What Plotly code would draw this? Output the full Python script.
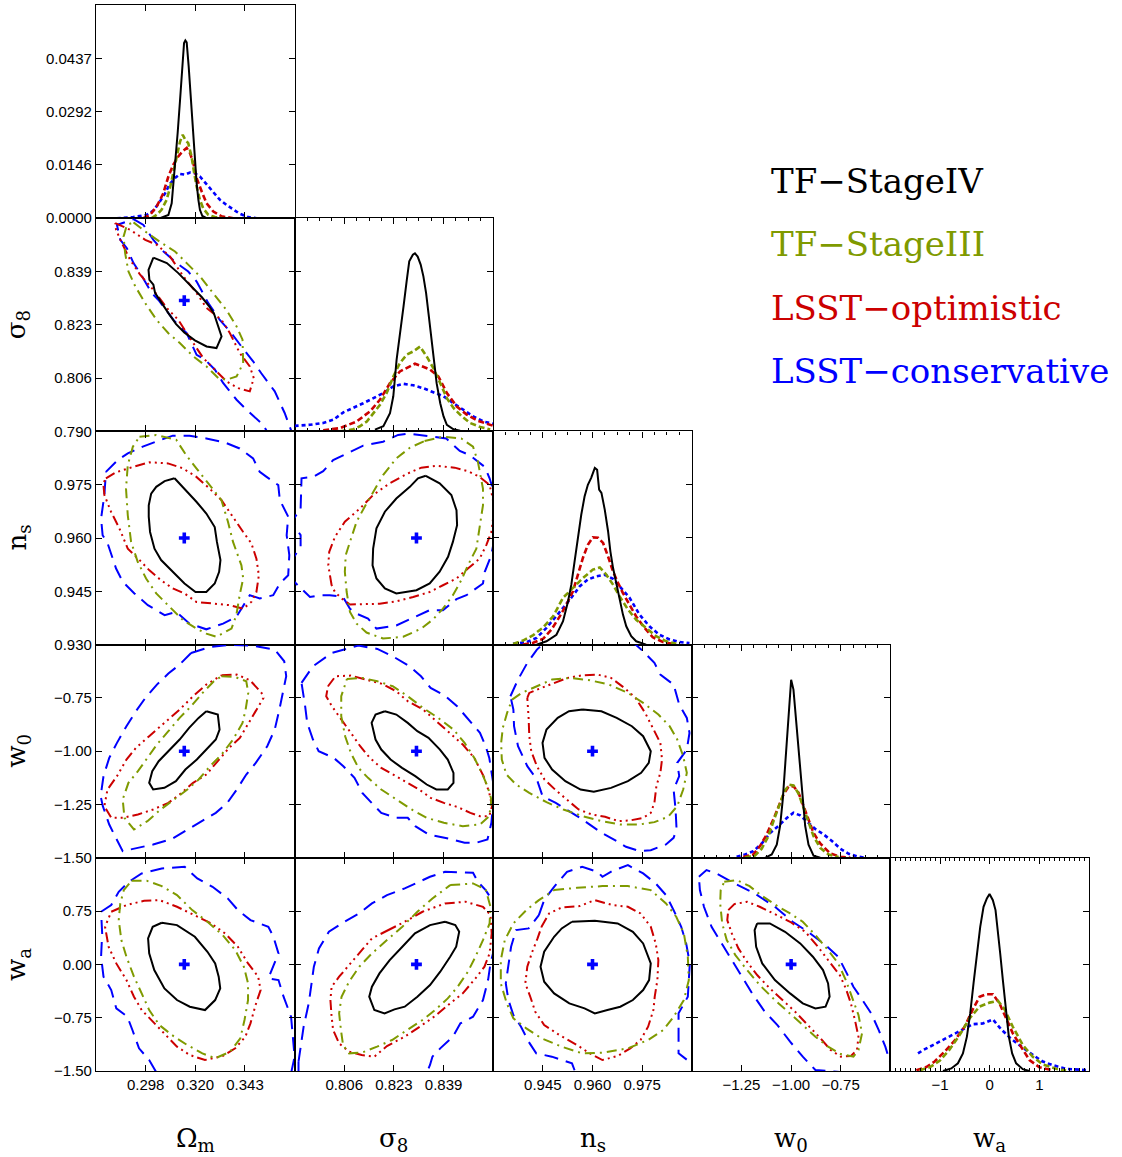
import plotly.graph_objects as go

# ---------------------------------------------------------------------------
# Parameters, fiducial cosmology and survey labels
# ---------------------------------------------------------------------------
params = ["om", "s8", "ns", "w0", "wa"]
fiducial = {"om": 0.315, "s8": 0.83, "ns": 0.96, "w0": -1.0, "wa": 0.0}
survey_names = {"iv": "TF−StageIV", "iii": "TF−StageIII",
                "opt": "LSST−optimistic", "con": "LSST−conservative"}

# Tick values / labels
om_ticks = [0.2975, 0.3200, 0.3425]
om_ticktext = ["0.298", "0.320", "0.343"]
s8_ticks = [0.7895, 0.8060, 0.8225, 0.8390]
s8_ticktext = ["0.790", "0.806", "0.823", "0.839"]
ns_ticks = [0.930, 0.945, 0.960, 0.975]
ns_ticktext = ["0.930", "0.945", "0.960", "0.975"]
w0_ticks = [-1.50, -1.25, -1.00, -0.75]
w0_ticktext = ["−1.50", "−1.25", "−1.00", "−0.75"]
wa_ticks = [-1.50, -0.75, 0.00, 0.75]
wa_ticktext = ["−1.50", "−0.75", "0.00", "0.75"]
wa_hist_ticks = [-1, 0, 1]
wa_hist_ticktext = ["−1", "0", "1"]
prob_ticks = [0.0, 0.0146, 0.0292, 0.0437]
prob_ticktext = ["0.0000", "0.0146", "0.0292", "0.0437"]

# ---------------------------------------------------------------------------
# 1-D marginal distributions (bin centre, probability per bin)
# ---------------------------------------------------------------------------
h_om_iv_x = [0.3040, 0.3078, 0.3093, 0.3100, 0.3108, 0.3120, 0.3131, 0.3141, 0.3149, 0.3155, 0.3161,
             0.3170, 0.3176, 0.3183, 0.3191, 0.3198, 0.3206, 0.3214, 0.3221, 0.3232, 0.3251, 0.3282]
h_om_iv_y = [0, 0.0009, 0.0041, 0.0087, 0.0151, 0.0233, 0.0324, 0.0415, 0.0479, 0.0486, 0.0481,
             0.0415, 0.0360, 0.0297, 0.0214, 0.0151, 0.0096, 0.0050, 0.0023, 0.0006, 0, 0]
h_om_iii_x = [0.3002, 0.3025, 0.3047, 0.3070, 0.3085, 0.3100, 0.3115, 0.3131, 0.3143, 0.3155, 0.3168,
              0.3183, 0.3195, 0.3206, 0.3221, 0.3236, 0.3259, 0.3289, 0.3327]
h_om_iii_y = [0, 0.0009, 0.0023, 0.0050, 0.0082, 0.0123, 0.0169, 0.0210, 0.0228, 0.0214, 0.0205,
              0.0169, 0.0123, 0.0087, 0.0050, 0.0027, 0.0009, 0.0003, 0]
h_om_opt_x = [0.2964, 0.2995, 0.3025, 0.3055, 0.3078, 0.3100, 0.3123, 0.3143, 0.3161, 0.3176, 0.3191,
              0.3206, 0.3229, 0.3251, 0.3282, 0.3319, 0.3372]
h_om_opt_y = [0, 0.0009, 0.0032, 0.0068, 0.0114, 0.0146, 0.0169, 0.0183, 0.0192, 0.0178, 0.0151,
              0.0110, 0.0073, 0.0041, 0.0018, 0.0005, 0]
h_om_con_x = [0.2844, 0.2919, 0.2980, 0.3010, 0.3040, 0.3063, 0.3085, 0.3108, 0.3131, 0.3153, 0.3176,
              0.3198, 0.3221, 0.3244, 0.3266, 0.3289, 0.3312, 0.3342, 0.3372, 0.3402, 0.3440, 0.3478]
h_om_con_y = [0, 0.0003, 0.0009, 0.0021, 0.0046, 0.0068, 0.0094, 0.0110, 0.0121, 0.0119, 0.0125,
              0.0123, 0.0114, 0.0098, 0.0082, 0.0064, 0.0050, 0.0036, 0.0025, 0.0012, 0.0003, 0]

h_s8_iv_x = [0.8162, 0.8190, 0.8212, 0.8223, 0.8234, 0.8243, 0.8257, 0.8268, 0.8276, 0.8288, 0.8295, 0.8304,
             0.8314, 0.8323, 0.8332, 0.8340, 0.8351, 0.8359, 0.8367, 0.8379, 0.8390, 0.8401, 0.8423, 0.8445]
h_s8_iv_y = [0.0005, 0.0014, 0.0050, 0.0096, 0.0196, 0.0260, 0.0342, 0.0415, 0.0465, 0.0483, 0.0487, 0.0478,
             0.0456, 0.0424, 0.0378, 0.0323, 0.0251, 0.0196, 0.0132, 0.0077, 0.0041, 0.0018, 0.0006, 0.0002]
h_s8_iii_x = [0.8046, 0.8090, 0.8112, 0.8135, 0.8157, 0.8179, 0.8201, 0.8223, 0.8245, 0.8268, 0.8290,
              0.8312, 0.8334, 0.8356, 0.8379, 0.8401, 0.8423, 0.8451, 0.8478, 0.8512, 0.8545]
h_s8_iii_y = [0, 0.0006, 0.0014, 0.0027, 0.0050, 0.0073, 0.0105, 0.0150, 0.0187, 0.0210, 0.0219,
              0.0232, 0.0205, 0.0173, 0.0132, 0.0091, 0.0064, 0.0041, 0.0023, 0.0012, 0.0005]
h_s8_opt_x = [0.7990, 0.8046, 0.8101, 0.8146, 0.8179, 0.8212, 0.8245, 0.8279, 0.8295, 0.8318, 0.8345,
              0.8373, 0.8401, 0.8434, 0.8467, 0.8501, 0.8534, 0.8556]
h_s8_opt_y = [0.0003, 0.0009, 0.0027, 0.0055, 0.0087, 0.0132, 0.0164, 0.0179, 0.0185, 0.0178, 0.0169,
              0.0150, 0.0105, 0.0068, 0.0046, 0.0030, 0.0021, 0.0015]
h_s8_con_x = [0.7895, 0.7946, 0.7990, 0.8024, 0.8057, 0.8090, 0.8123, 0.8157, 0.8190, 0.8223, 0.8257,
              0.8290, 0.8323, 0.8356, 0.8390, 0.8423, 0.8456, 0.8489, 0.8523, 0.8555]
h_s8_con_y = [0.0015, 0.0018, 0.0023, 0.0032, 0.0052, 0.0064, 0.0077, 0.0091, 0.0105, 0.0123, 0.0130,
              0.0126, 0.0118, 0.0107, 0.0096, 0.0077, 0.0059, 0.0041, 0.0027, 0.0021]

h_ns_iv_x = [0.9431, 0.9461, 0.9491, 0.9511, 0.9526, 0.9536, 0.9546, 0.9556, 0.9566, 0.9576, 0.9586, 0.9596,
             0.9607, 0.9614, 0.9620, 0.9627, 0.9637, 0.9647, 0.9654, 0.9662, 0.9672, 0.9682, 0.9692, 0.9702,
             0.9717, 0.9732, 0.9762]
h_ns_iv_y = [0, 0.0009, 0.0027, 0.0064, 0.0118, 0.0164, 0.0228, 0.0292, 0.0355, 0.0405, 0.0437, 0.0456,
             0.0483, 0.0478, 0.0424, 0.0415, 0.0369, 0.0310, 0.0255, 0.0210, 0.0164, 0.0118, 0.0082, 0.0050,
             0.0023, 0.0009, 0]
h_ns_iii_x = [0.9360, 0.9390, 0.9421, 0.9451, 0.9481, 0.9511, 0.9541, 0.9571, 0.9601, 0.9622, 0.9642,
              0.9662, 0.9682, 0.9707, 0.9732, 0.9762, 0.9792, 0.9823, 0.9853]
h_ns_iii_y = [0.0002, 0.0011, 0.0026, 0.0047, 0.0077, 0.0128, 0.0155, 0.0182, 0.0205, 0.0211, 0.0191,
              0.0164, 0.0132, 0.0096, 0.0068, 0.0046, 0.0023, 0.0009, 0.0002]
h_ns_opt_x = [0.9390, 0.9421, 0.9451, 0.9476, 0.9501, 0.9521, 0.9541, 0.9556, 0.9571, 0.9586, 0.9601, 0.9617,
              0.9632, 0.9647, 0.9662, 0.9677, 0.9692, 0.9712, 0.9732, 0.9757, 0.9782, 0.9813, 0.9843]
h_ns_opt_y = [0, 0.0005, 0.0016, 0.0041, 0.0077, 0.0109, 0.0146, 0.0191, 0.0237, 0.0273, 0.0293, 0.0292,
              0.0278, 0.0241, 0.0200, 0.0169, 0.0141, 0.0109, 0.0077, 0.0046, 0.0020, 0.0007, 0.0002]
h_ns_con_x = [0.9360, 0.9401, 0.9431, 0.9461, 0.9486, 0.9511, 0.9536, 0.9561, 0.9586, 0.9612, 0.9637,
              0.9662, 0.9687, 0.9712, 0.9742, 0.9772, 0.9802, 0.9833, 0.9863, 0.9893]
h_ns_con_y = [0.0002, 0.0007, 0.0018, 0.0046, 0.0073, 0.0100, 0.0128, 0.0159, 0.0178, 0.0187, 0.0191,
              0.0180, 0.0155, 0.0128, 0.0082, 0.0050, 0.0027, 0.0014, 0.0007, 0.0004]

h_w0_iv_x = [-1.1312, -1.0975, -1.0722, -1.0554, -1.0420, -1.0302, -1.0184, -1.0083, -0.9998, -0.9881,
             -0.9796, -0.9678, -0.9544, -0.9426, -0.9291, -0.9123, -0.8870, -0.8533]
h_w0_iv_y = [0, 0.0009, 0.0036, 0.0087, 0.0159, 0.0251, 0.0351, 0.0442, 0.0487, 0.0460,
             0.0405, 0.0323, 0.0232, 0.0159, 0.0087, 0.0036, 0.0006, 0]
h_w0_iii_x = [-1.2323, -1.1818, -1.1480, -1.1144, -1.0857, -1.0588, -1.0335, -1.0083, -0.9881, -0.9628,
              -0.9375, -0.9123, -0.8870, -0.8533, -0.8112, -0.7607]
h_w0_iii_y = [0.0001, 0.0006, 0.0025, 0.0059, 0.0105, 0.0146, 0.0182, 0.0200, 0.0198, 0.0176,
              0.0137, 0.0094, 0.0059, 0.0027, 0.0009, 0.0002]
h_w0_opt_x = [-1.2407, -1.1902, -1.1564, -1.1228, -1.0891, -1.0638, -1.0386, -1.0133, -0.9881, -0.9628,
              -0.9375, -0.9123, -0.8870, -0.8533, -0.8028, -0.7523, -0.7018]
h_w0_opt_y = [0.0002, 0.0009, 0.0032, 0.0064, 0.0105, 0.0141, 0.0173, 0.0194, 0.0196, 0.0178,
              0.0141, 0.0100, 0.0068, 0.0039, 0.0012, 0.0003, 0]
h_w0_con_x = [-1.2744, -1.2323, -1.1902, -1.1480, -1.1059, -1.0638, -1.0217, -0.9881, -0.9544, -0.9207,
              -0.8786, -0.8365, -0.7944, -0.7523, -0.7102, -0.6681, -0.6344]
h_w0_con_y = [0.0003, 0.0009, 0.0018, 0.0039, 0.0068, 0.0087, 0.0109, 0.0123, 0.0116, 0.0100,
              0.0079, 0.0064, 0.0046, 0.0025, 0.0011, 0.0004, 0.0001]

h_wa_iv_x = [-0.9414, -0.7739, -0.6399, -0.5394, -0.4590, -0.3920, -0.3250, -0.2580, -0.1910, -0.1240,
             -0.0570, -0.0034, 0.0636, 0.1172, 0.1641, 0.2110, 0.2646, 0.3182, 0.3852, 0.4522, 0.5326,
             0.6666, 0.8006]
h_wa_iv_y = [0, 0.0007, 0.0021, 0.0048, 0.0094, 0.0158, 0.0240, 0.0322, 0.0394, 0.0449,
             0.0472, 0.0484, 0.0467, 0.0440, 0.0385, 0.0322, 0.0249, 0.0176, 0.0094, 0.0048, 0.0021,
             0.0005, 0]
h_wa_iii_x = [-1.4104, -1.2094, -1.0084, -0.8074, -0.6064, -0.4054, -0.2044, -0.0034, 0.1641, 0.2981,
              0.4656, 0.6666, 0.8676, 1.0686, 1.3366, 1.5376]
h_wa_iii_y = [0.0002, 0.0010, 0.0028, 0.0059, 0.0098, 0.0144, 0.0176, 0.0187, 0.0192, 0.0169,
              0.0121, 0.0071, 0.0039, 0.0018, 0.0006, 0.0001]
h_wa_opt_x = [-1.4774, -1.2764, -1.1089, -0.9079, -0.7069, -0.5059, -0.3384, -0.2044, -0.0704, 0.0636,
              0.1976, 0.3316, 0.4656, 0.6331, 0.8006, 1.0016, 1.2696]
h_wa_opt_y = [0.0002, 0.0011, 0.0026, 0.0053, 0.0083, 0.0121, 0.0169, 0.0203, 0.0210, 0.0210,
              0.0185, 0.0144, 0.0103, 0.0066, 0.0030, 0.0010, 0.0002]
h_wa_con_x = [-1.4439, -1.3434, -1.1424, -0.9414, -0.7404, -0.5394, -0.3384, -0.1374, 0.0636, 0.2311,
              0.3986, 0.5661, 0.7336, 0.9011, 1.0686, 1.2696, 1.5376, 1.8056, 2.0066]
h_wa_con_y = [0.0048, 0.0057, 0.0071, 0.0085, 0.0098, 0.0112, 0.0128, 0.0130, 0.0141, 0.0114,
              0.0092, 0.0074, 0.0057, 0.0041, 0.0026, 0.0016, 0.0006, 0.0003, 0.0002]

# ---------------------------------------------------------------------------
# 2-D confidence contours (closed vertex loops), named <y>_<x>_<survey>
# ---------------------------------------------------------------------------
# sigma8 vs Omega_m
s8_om_iv_x = [0.3010, 0.3071, 0.3123, 0.3176, 0.3229, 0.3263, 0.3284, 0.3319, 0.3296, 0.3251, 0.3198,
              0.3150, 0.3113, 0.3078, 0.3048, 0.3018, 0.3010, 0.2992, 0.2988]
s8_om_iv_y = [0.8433, 0.8416, 0.8385, 0.8349, 0.8311, 0.8282, 0.8261, 0.8189, 0.8153, 0.8158, 0.8177,
              0.8201, 0.8227, 0.8261, 0.8290, 0.8323, 0.8349, 0.8364, 0.8395]
s8_om_iii_x = [0.2920, 0.2973, 0.3048, 0.3108, 0.3161, 0.3221, 0.3281, 0.3341, 0.3387, 0.3414, 0.3417,
               0.3387, 0.3341, 0.3304, 0.3251, 0.3191, 0.3131, 0.3078, 0.3025, 0.2973, 0.2928, 0.2897,
               0.2882, 0.2875, 0.2890]
s8_om_iii_y = [0.8542, 0.8514, 0.8478, 0.8452, 0.8416, 0.8375, 0.8323, 0.8271, 0.8220, 0.8179, 0.8106,
               0.8065, 0.8055, 0.8060, 0.8096, 0.8127, 0.8168, 0.8199, 0.8240, 0.8292, 0.8344, 0.8390,
               0.8447, 0.8498, 0.8534]
s8_om_opt_x = [0.2837, 0.2905, 0.2973, 0.3025, 0.3086, 0.3146, 0.3206, 0.3251, 0.3319, 0.3357, 0.3402,
               0.3447, 0.3465, 0.3447, 0.3394, 0.3341, 0.3289, 0.3236, 0.3176, 0.3123, 0.3071, 0.3010,
               0.2950, 0.2905, 0.2867, 0.2841]
s8_om_opt_y = [0.8540, 0.8519, 0.8488, 0.8473, 0.8436, 0.8375, 0.8323, 0.8277, 0.8240, 0.8199, 0.8137,
               0.8096, 0.8060, 0.8019, 0.8029, 0.8050, 0.8086, 0.8122, 0.8184, 0.8240, 0.8277, 0.8333,
               0.8380, 0.8426, 0.8478, 0.8519]
s8_om_con_x = [0.2920, 0.2965, 0.3010, 0.3056, 0.3116, 0.3168, 0.3206, 0.3259, 0.3311, 0.3364, 0.3409,
               0.3462, 0.3499, 0.3560, 0.3605, 0.3642, 0.3660, 0.3537, 0.3507, 0.3432, 0.3387, 0.3326,
               0.3289, 0.3244, 0.3206, 0.3161, 0.3101, 0.3033, 0.3003, 0.2950, 0.2920, 0.2890, 0.2860,
               0.2845]
s8_om_con_y = [0.8552, 0.8534, 0.8488, 0.8452, 0.8416, 0.8390, 0.8359, 0.8292, 0.8240, 0.8199, 0.8158,
               0.8112, 0.8075, 0.8019, 0.7952, 0.7890, 0.7850, 0.7880, 0.7916, 0.7962, 0.7993, 0.8045,
               0.8086, 0.8117, 0.8132, 0.8199, 0.8240, 0.8302, 0.8323, 0.8385, 0.8416, 0.8462, 0.8488,
               0.8534]

# n_s vs Omega_m
ns_om_iv_x = [0.3106, 0.3151, 0.3205, 0.3250, 0.3288, 0.3298, 0.3314, 0.3308, 0.3288, 0.3250, 0.3201,
              0.3151, 0.3098, 0.3045, 0.3015, 0.2995, 0.2989, 0.2989, 0.3000, 0.3023, 0.3061]
ns_om_iv_y = [0.9768, 0.9739, 0.9702, 0.9669, 0.9631, 0.9589, 0.9538, 0.9505, 0.9472, 0.9448, 0.9448,
              0.9472, 0.9505, 0.9538, 0.9570, 0.9617, 0.9660, 0.9692, 0.9725, 0.9744, 0.9760]
ns_om_iii_x = [0.2947, 0.3023, 0.3114, 0.3159, 0.3205, 0.3265, 0.3318, 0.3348, 0.3371, 0.3409, 0.3417,
               0.3401, 0.3386, 0.3364, 0.3295, 0.3250, 0.3205, 0.3144, 0.3076, 0.3023, 0.2977, 0.2939,
               0.2909, 0.2894, 0.2886, 0.2894, 0.2917]
ns_om_iii_y = [0.9885, 0.9890, 0.9876, 0.9833, 0.9796, 0.9749, 0.9707, 0.9646, 0.9589, 0.9523, 0.9486,
               0.9439, 0.9383, 0.9345, 0.9322, 0.9331, 0.9345, 0.9369, 0.9411, 0.9444, 0.9486, 0.9533,
               0.9589, 0.9664, 0.9739, 0.9805, 0.9857]
ns_om_opt_x = [0.2795, 0.2841, 0.2917, 0.2992, 0.3076, 0.3144, 0.3205, 0.3265, 0.3318, 0.3364, 0.3417,
               0.3454, 0.3477, 0.3488, 0.3477, 0.3454, 0.3417, 0.3356, 0.3280, 0.3205, 0.3151, 0.3098,
               0.3045, 0.2992, 0.2947, 0.2894, 0.2856, 0.2818, 0.2788, 0.2783]
ns_om_opt_y = [0.9768, 0.9785, 0.9800, 0.9813, 0.9810, 0.9796, 0.9772, 0.9739, 0.9707, 0.9664, 0.9617,
               0.9585, 0.9542, 0.9495, 0.9448, 0.9420, 0.9401, 0.9411, 0.9415, 0.9420, 0.9444, 0.9458,
               0.9481, 0.9509, 0.9538, 0.9570, 0.9627, 0.9674, 0.9721, 0.9754]
ns_om_con_x = [0.2795, 0.2848, 0.2894, 0.2962, 0.3030, 0.3098, 0.3174, 0.3250, 0.3333, 0.3401, 0.3462,
               0.3492, 0.3523, 0.3576, 0.3583, 0.3621, 0.3614, 0.3626, 0.3621, 0.3583, 0.3553, 0.3492,
               0.3447, 0.3386, 0.3326, 0.3250, 0.3174, 0.3114, 0.3061, 0.2985, 0.2924, 0.2871, 0.2841,
               0.2826, 0.2803, 0.2780, 0.2773, 0.2788]
ns_om_con_y = [0.9786, 0.9819, 0.9838, 0.9857, 0.9873, 0.9888, 0.9888, 0.9880, 0.9869, 0.9852, 0.9824,
               0.9786, 0.9772, 0.9749, 0.9707, 0.9660, 0.9608, 0.9552, 0.9495, 0.9472, 0.9439, 0.9430,
               0.9439, 0.9378, 0.9359, 0.9343, 0.9359, 0.9392, 0.9383, 0.9411, 0.9444, 0.9477, 0.9514,
               0.9542, 0.9584, 0.9608, 0.9655, 0.9721]

# n_s vs sigma8
ns_s8_iv_x = [0.8331, 0.8377, 0.8416, 0.8433, 0.8435, 0.8421, 0.8405, 0.8377, 0.8344, 0.8300, 0.8233,
              0.8195, 0.8167, 0.8154, 0.8156, 0.8167, 0.8195, 0.8233, 0.8278, 0.8305]
ns_s8_iv_y = [0.9775, 0.9754, 0.9721, 0.9678, 0.9636, 0.9589, 0.9547, 0.9505, 0.9472, 0.9453, 0.9444,
              0.9458, 0.9486, 0.9523, 0.9570, 0.9627, 0.9674, 0.9711, 0.9744, 0.9768]
ns_s8_iii_x = [0.8327, 0.8388, 0.8449, 0.8488, 0.8504, 0.8521, 0.8521, 0.8510, 0.8499, 0.8471, 0.8449,
               0.8421, 0.8388, 0.8355, 0.8316, 0.8256, 0.8189, 0.8134, 0.8101, 0.8079, 0.8068, 0.8062,
               0.8065, 0.8079, 0.8101, 0.8128, 0.8156, 0.8189, 0.8233, 0.8278]
ns_s8_iii_y = [0.9873, 0.9885, 0.9880, 0.9857, 0.9815, 0.9739, 0.9692, 0.9627, 0.9570, 0.9523, 0.9481,
               0.9439, 0.9401, 0.9371, 0.9345, 0.9322, 0.9317, 0.9334, 0.9359, 0.9392, 0.9448, 0.9505,
               0.9552, 0.9589, 0.9646, 0.9688, 0.9730, 0.9777, 0.9824, 0.9854]
ns_s8_opt_x = [0.8018, 0.8007, 0.8010, 0.8029, 0.8062, 0.8112, 0.8156, 0.8211, 0.8272, 0.8316, 0.8366,
               0.8427, 0.8471, 0.8510, 0.8543, 0.8554, 0.8556, 0.8549, 0.8532, 0.8510, 0.8471, 0.8433,
               0.8388, 0.8344, 0.8289, 0.8233, 0.8178, 0.8123, 0.8079, 0.8051, 0.8029]
ns_s8_opt_y = [0.9467, 0.9523, 0.9561, 0.9603, 0.9646, 0.9683, 0.9721, 0.9754, 0.9782, 0.9798, 0.9803,
               0.9798, 0.9788, 0.9772, 0.9749, 0.9711, 0.9664, 0.9617, 0.9580, 0.9542, 0.9514, 0.9486,
               0.9467, 0.9448, 0.9434, 0.9422, 0.9415, 0.9415, 0.9413, 0.9430, 0.9448]
ns_s8_con_x = [0.7915, 0.7918, 0.7957, 0.7990, 0.8023, 0.8056, 0.8123, 0.8189, 0.8239, 0.8272, 0.8344,
               0.8399, 0.8444, 0.8477, 0.8527, 0.8543, 0.8560, 0.8565, 0.8549, 0.8527, 0.8521, 0.8466,
               0.8433, 0.8388, 0.8344, 0.8283, 0.8233, 0.8167, 0.8139, 0.8101, 0.8079, 0.8056, 0.8012,
               0.7979, 0.7946, 0.7890, 0.7880, 0.7915, 0.7915, 0.7885]
ns_s8_con_y = [0.9683, 0.9768, 0.9772, 0.9788, 0.9819, 0.9833, 0.9860, 0.9871, 0.9890, 0.9894, 0.9885,
               0.9880, 0.9845, 0.9833, 0.9800, 0.9768, 0.9721, 0.9627, 0.9552, 0.9505, 0.9472, 0.9439,
               0.9428, 0.9397, 0.9397, 0.9373, 0.9354, 0.9345, 0.9373, 0.9387, 0.9401, 0.9434, 0.9439,
               0.9439, 0.9434, 0.9480, 0.9530, 0.9575, 0.9608, 0.9645]

# w0 vs Omega_m
w0_om_iv_x = [0.3250, 0.3302, 0.3310, 0.3293, 0.3250, 0.3207, 0.3155, 0.3112, 0.3060, 0.3009, 0.2991,
              0.3005, 0.3034, 0.3086, 0.3129, 0.3172, 0.3215]
w0_om_iv_y = [-0.8125, -0.8281, -0.8984, -0.9453, -0.9922, -1.0391, -1.0859, -1.1406, -1.1719, -1.1797,
              -1.1484, -1.0938, -1.0469, -0.9922, -0.9453, -0.8906, -0.8438]
w0_om_iii_x = [0.3319, 0.3379, 0.3431, 0.3440, 0.3428, 0.3414, 0.3371, 0.3319, 0.3267, 0.3215, 0.3164,
               0.3103, 0.3043, 0.2983, 0.2922, 0.2879, 0.2871, 0.2897, 0.2940, 0.2983, 0.3026, 0.3078,
               0.3129, 0.3181, 0.3233, 0.3284]
w0_om_iii_y = [-0.6484, -0.6516, -0.6719, -0.7266, -0.8047, -0.8672, -0.9453, -1.0156, -1.0703, -1.1328,
               -1.1797, -1.2266, -1.2734, -1.3281, -1.3672, -1.3125, -1.2266, -1.1484, -1.0938, -1.0313,
               -0.9688, -0.9063, -0.8438, -0.7891, -0.7266, -0.6719]
w0_om_opt_x = [0.3319, 0.3388, 0.3448, 0.3500, 0.3509, 0.3474, 0.3440, 0.3402, 0.3353, 0.3302, 0.3250,
               0.3190, 0.3129, 0.3078, 0.3009, 0.2940, 0.2871, 0.2819, 0.2788, 0.2802, 0.2845, 0.2888,
               0.2931, 0.2991, 0.3060, 0.3129, 0.3190, 0.3250]
w0_om_opt_y = [-0.6438, -0.6406, -0.6672, -0.7266, -0.7500, -0.8125, -0.8750, -0.9375, -0.9844, -1.0469,
               -1.1094, -1.1484, -1.2031, -1.2422, -1.2734, -1.2969, -1.3125, -1.3125, -1.2578, -1.1797,
               -1.1172, -1.0391, -0.9844, -0.9297, -0.8672, -0.8047, -0.7422, -0.6875]
w0_om_con_x = [0.3181, 0.3267, 0.3353, 0.3457, 0.3560, 0.3603, 0.3612, 0.3598, 0.3581, 0.3560, 0.3526,
               0.3474, 0.3431, 0.3388, 0.3345, 0.3293, 0.3215, 0.3155, 0.3095, 0.3009, 0.2940, 0.2871,
               0.2836, 0.2810, 0.2781, 0.2771, 0.2784, 0.2810, 0.2845, 0.2888, 0.2931, 0.2974, 0.3026,
               0.3078, 0.3129]
w0_om_con_y = [-0.5391, -0.5109, -0.5016, -0.5047, -0.5234, -0.5781, -0.6484, -0.7266, -0.8047, -0.8984,
               -0.9766, -1.0547, -1.1094, -1.1797, -1.2422, -1.2891, -1.3359, -1.3750, -1.4109, -1.4375,
               -1.4531, -1.4688, -1.3984, -1.3438, -1.2578, -1.2109, -1.1172, -1.0313, -0.9609, -0.8828,
               -0.8125, -0.7500, -0.6875, -0.6359, -0.5938]

# w0 vs sigma8
w0_s8_iv_x = [0.8195, 0.8233, 0.8271, 0.8303, 0.8340, 0.8378, 0.8404, 0.8423, 0.8423, 0.8404, 0.8366,
              0.8334, 0.8296, 0.8252, 0.8214, 0.8183, 0.8164, 0.8151, 0.8164]
w0_s8_iv_y = [-0.8125, -0.8281, -0.8672, -0.9063, -0.9375, -0.9922, -1.0391, -1.1016, -1.1484, -1.1797,
              -1.1797, -1.1563, -1.1172, -1.0781, -1.0391, -0.9922, -0.9453, -0.8672, -0.8281]
w0_s8_iii_x = [0.8069, 0.8120, 0.8170, 0.8221, 0.8271, 0.8322, 0.8372, 0.8423, 0.8460, 0.8492, 0.8517,
               0.8536, 0.8549, 0.8542, 0.8511, 0.8454, 0.8391, 0.8334, 0.8284, 0.8233, 0.8183, 0.8139,
               0.8107, 0.8082, 0.8063, 0.8050, 0.8050]
w0_s8_iii_y = [-0.6609, -0.6563, -0.6719, -0.6953, -0.7422, -0.7969, -0.8438, -0.8984, -0.9609, -1.0313,
               -1.1016, -1.1641, -1.2266, -1.3047, -1.3438, -1.3516, -1.3359, -1.3125, -1.2734, -1.2266,
               -1.1797, -1.1250, -1.0781, -1.0078, -0.9297, -0.8359, -0.7422]
w0_s8_opt_x = [0.8006, 0.8031, 0.8082, 0.8132, 0.8183, 0.8233, 0.8271, 0.8322, 0.8366, 0.8410, 0.8454,
               0.8492, 0.8523, 0.8542, 0.8551, 0.8542, 0.8511, 0.8479, 0.8435, 0.8391, 0.8347, 0.8309,
               0.8265, 0.8221, 0.8183, 0.8145, 0.8113, 0.8082, 0.8050, 0.8019, 0.8000]
w0_s8_opt_y = [-0.6953, -0.6484, -0.6453, -0.6641, -0.6828, -0.7188, -0.7656, -0.8047, -0.8594, -0.9141,
               -0.9688, -1.0313, -1.1172, -1.1953, -1.2578, -1.3047, -1.3047, -1.2891, -1.2609, -1.2422,
               -1.2188, -1.1797, -1.1453, -1.1094, -1.0781, -1.0313, -0.9766, -0.9141, -0.8516, -0.7891,
               -0.7422]
w0_s8_con_x = [0.7918, 0.7956, 0.8019, 0.8107, 0.8170, 0.8221, 0.8277, 0.8315, 0.8347, 0.8397, 0.8435,
               0.8479, 0.8511, 0.8530, 0.8542, 0.8555, 0.8555, 0.8549, 0.8536, 0.8498, 0.8460, 0.8410,
               0.8340, 0.8296, 0.8271, 0.8233, 0.8183, 0.8151, 0.8120, 0.8094, 0.8057, 0.8025, 0.7975,
               0.7956, 0.7937, 0.7930, 0.7924]
w0_s8_con_y = [-0.6797, -0.6016, -0.5391, -0.5047, -0.5203, -0.5547, -0.6016, -0.6484, -0.7031, -0.7422,
               -0.7891, -0.8594, -0.9141, -0.9766, -1.0313, -1.1484, -1.2422, -1.3359, -1.4141, -1.4297,
               -1.4297, -1.4109, -1.3906, -1.3516, -1.3125, -1.3125, -1.2891, -1.2422, -1.1953, -1.1250,
               -1.0703, -1.0313, -1.0000, -0.9453, -0.8672, -0.7891, -0.7266]

# w0 vs n_s
w0_ns_iv_x = [0.9570, 0.9627, 0.9673, 0.9719, 0.9753, 0.9776, 0.9770, 0.9747, 0.9707, 0.9656, 0.9604,
              0.9564, 0.9518, 0.9478, 0.9455, 0.9449, 0.9461, 0.9495, 0.9529]
w0_ns_iv_y = [-0.8047, -0.8125, -0.8438, -0.8828, -0.9297, -1.0000, -1.0547, -1.1016, -1.1406, -1.1719,
              -1.1906, -1.1797, -1.1406, -1.0859, -1.0313, -0.9609, -0.8984, -0.8438, -0.8125]
w0_ns_iii_x = [0.9357, 0.9386, 0.9432, 0.9478, 0.9535, 0.9592, 0.9650, 0.9707, 0.9753, 0.9799, 0.9833,
               0.9856, 0.9874, 0.9885, 0.9874, 0.9856, 0.9828, 0.9787, 0.9742, 0.9684, 0.9627, 0.9570,
               0.9512, 0.9461, 0.9409, 0.9369, 0.9340, 0.9326, 0.9324, 0.9329, 0.9342]
w0_ns_iii_y = [-0.7578, -0.7266, -0.6953, -0.6641, -0.6563, -0.6672, -0.6875, -0.7266, -0.7734, -0.8281,
               -0.8828, -0.9453, -1.0234, -1.1016, -1.1797, -1.2578, -1.3078, -1.3328, -1.3438, -1.3438,
               -1.3281, -1.3047, -1.2734, -1.2391, -1.1953, -1.1563, -1.1094, -1.0391, -0.9609, -0.8906,
               -0.8203]
w0_ns_opt_x = [0.9403, 0.9409, 0.9438, 0.9478, 0.9524, 0.9570, 0.9615, 0.9656, 0.9696, 0.9730, 0.9759,
               0.9782, 0.9805, 0.9810, 0.9805, 0.9793, 0.9787, 0.9776, 0.9753, 0.9713, 0.9679, 0.9638,
               0.9598, 0.9558, 0.9524, 0.9489, 0.9455, 0.9432, 0.9415, 0.9409, 0.9407]
w0_ns_opt_y = [-0.7500, -0.7266, -0.7078, -0.6828, -0.6563, -0.6438, -0.6406, -0.6563, -0.7031, -0.7500,
               -0.8203, -0.8906, -0.9609, -1.0391, -1.1016, -1.1641, -1.2422, -1.2891, -1.3125, -1.3250,
               -1.3281, -1.3078, -1.2969, -1.2734, -1.2297, -1.1828, -1.1328, -1.0703, -1.0000, -0.9297,
               -0.8438]
w0_ns_con_x = [0.9352, 0.9375, 0.9403, 0.9432, 0.9478, 0.9650, 0.9730, 0.9753, 0.9787, 0.9805, 0.9845,
               0.9862, 0.9885, 0.9893, 0.9885, 0.9856, 0.9862, 0.9845, 0.9851, 0.9854, 0.9845, 0.9822,
               0.9776, 0.9742, 0.9701, 0.9673, 0.9627, 0.9570, 0.9529, 0.9489, 0.9449, 0.9432, 0.9403,
               0.9375, 0.9363, 0.9361]
w0_ns_con_y = [-0.7422, -0.6641, -0.5859, -0.5234, -0.4609, -0.4531, -0.5000, -0.5313, -0.5859, -0.6406,
               -0.6875, -0.7813, -0.8438, -0.9141, -0.9922, -1.0547, -1.1172, -1.1797, -1.2734, -1.3672,
               -1.4063, -1.4375, -1.4641, -1.4688, -1.4484, -1.4219, -1.3828, -1.3203, -1.2813, -1.2422,
               -1.2109, -1.1328, -1.0703, -0.9766, -0.8828, -0.8047]

# w_a vs Omega_m
wa_om_iv_x = [0.3048, 0.3117, 0.3198, 0.3255, 0.3290, 0.3306, 0.3313, 0.3290, 0.3244, 0.3175, 0.3117,
              0.3060, 0.3014, 0.2991, 0.2986, 0.3007]
wa_om_iv_y = [0.5859, 0.5531, 0.3891, 0.1781, 0.0141, -0.1734, -0.3375, -0.5016, -0.6422, -0.5953,
              -0.5016, -0.3375, -0.0797, 0.1547, 0.3656, 0.5297]
wa_om_iii_x = [0.2911, 0.2980, 0.3048, 0.3117, 0.3186, 0.3255, 0.3324, 0.3381, 0.3420, 0.3439, 0.3439,
               0.3423, 0.3404, 0.3358, 0.3290, 0.3232, 0.3163, 0.3094, 0.3037, 0.2991, 0.2957, 0.2922,
               0.2888, 0.2865, 0.2853, 0.2860, 0.2876]
wa_om_iii_y = [1.1766, 1.1766, 1.1016, 0.9750, 0.7641, 0.6000, 0.4125, 0.2016, -0.0328, -0.2672, -0.5016,
               -0.7828, -1.0406, -1.2281, -1.3219, -1.2516, -1.1344, -0.9938, -0.8531, -0.6422, -0.4078,
               -0.1734, 0.1078, 0.3422, 0.6234, 0.8578, 1.0453]
wa_om_opt_x = [0.2819, 0.2888, 0.2968, 0.3037, 0.3117, 0.3198, 0.3267, 0.3335, 0.3393, 0.3439, 0.3485,
               0.3496, 0.3473, 0.3450, 0.3427, 0.3381, 0.3324, 0.3244, 0.3175, 0.3117, 0.3060, 0.3014,
               0.2957, 0.2922, 0.2888, 0.2842, 0.2807, 0.2791]
wa_om_opt_y = [0.7406, 0.8344, 0.8953, 0.9047, 0.8109, 0.6938, 0.5859, 0.4359, 0.2484, 0.0141, -0.1734,
               -0.3609, -0.5719, -0.8297, -1.0172, -1.1813, -1.2891, -1.3453, -1.2750, -1.1578, -0.9703,
               -0.8297, -0.6422, -0.4547, -0.2203, 0.0141, 0.2484, 0.5297]
wa_om_con_x = [0.2773, 0.2819, 0.2853, 0.2899, 0.2957, 0.3048, 0.3152, 0.3209, 0.3278, 0.3347, 0.3393,
               0.3450, 0.3531, 0.3554, 0.3577, 0.3531, 0.3577, 0.3600, 0.3634, 0.3641, 0.3650, 0.3634,
               0.3439, 0.3209, 0.3026, 0.2991, 0.2945, 0.2915, 0.2892, 0.2842, 0.2819, 0.2784, 0.2773,
               0.2778, 0.2773]
wa_om_con_y = [0.7406, 0.8344, 1.0219, 1.1625, 1.2797, 1.3500, 1.3734, 1.2094, 1.0922, 0.9281, 0.7641,
               0.6234, 0.5297, 0.3891, 0.1547, -0.1969, -0.2203, -0.4547, -0.7359, -1.0172, -1.2984,
               -1.5328, -1.6734, -1.7203, -1.5328, -1.3453, -1.1813, -0.9234, -0.7359, -0.6188, -0.3609,
               -0.1734, 0.1078, 0.4359, 0.6234]

# w_a vs sigma8
wa_s8_iv_x = [0.8395, 0.8429, 0.8442, 0.8432, 0.8412, 0.8379, 0.8345, 0.8303, 0.8261, 0.8227, 0.8194,
              0.8160, 0.8143, 0.8152, 0.8177, 0.8211, 0.8253, 0.8295, 0.8345]
wa_s8_iv_y = [0.6000, 0.5531, 0.4594, 0.2484, 0.1078, -0.1031, -0.2906, -0.4547, -0.5953, -0.6328,
              -0.6891, -0.6422, -0.4547, -0.3141, -0.1266, 0.0609, 0.2484, 0.4359, 0.5531]
wa_s8_iii_x = [0.8412, 0.8488, 0.8530, 0.8546, 0.8543, 0.8521, 0.8496, 0.8471, 0.8437, 0.8404, 0.8362,
               0.8320, 0.8269, 0.8219, 0.8169, 0.8118, 0.8076, 0.8056, 0.8049, 0.8043, 0.8051, 0.8076,
               0.8110, 0.8152, 0.8202, 0.8253, 0.8303, 0.8353]
wa_s8_iii_y = [1.1156, 1.1391, 1.0547, 0.8109, 0.5766, 0.3422, 0.1078, -0.1031, -0.3141, -0.4781,
               -0.6422, -0.7828, -0.9234, -1.0641, -1.1578, -1.2422, -1.2516, -1.1344, -0.9234, -0.6891,
               -0.4547, -0.2438, -0.0328, 0.1547, 0.3422, 0.5297, 0.7406, 0.9281]
wa_s8_opt_x = [0.8202, 0.8261, 0.8320, 0.8395, 0.8463, 0.8521, 0.8546, 0.8550, 0.8543, 0.8526, 0.8496,
               0.8454, 0.8412, 0.8362, 0.8311, 0.8261, 0.8202, 0.8160, 0.8118, 0.8076, 0.8043, 0.8023,
               0.8018, 0.8014, 0.8018, 0.8043, 0.8076, 0.8110, 0.8152]
wa_s8_opt_y = [0.4734, 0.6000, 0.7406, 0.8578, 0.8813, 0.8109, 0.6938, 0.4359, 0.1547, -0.0328, -0.1969,
               -0.4078, -0.5484, -0.7266, -0.8766, -1.0172, -1.1484, -1.2984, -1.2750, -1.2281, -1.1109,
               -0.9234, -0.7359, -0.5016, -0.3141, -0.1734, -0.0094, 0.1547, 0.3656]
wa_s8_con_x = [0.7908, 0.7917, 0.7925, 0.7942, 0.7950, 0.7959, 0.7976, 0.8009, 0.8060, 0.8110, 0.8152,
               0.8202, 0.8261, 0.8311, 0.8345, 0.8395, 0.8488, 0.8504, 0.8530, 0.8555, 0.8572, 0.8563,
               0.8546, 0.8538, 0.8521, 0.8488, 0.8446, 0.8421, 0.8379, 0.8353, 0.8345, 0.8328, 0.7908]
wa_s8_con_y = [-1.3688, -1.1109, -0.8766, -0.5484, -0.2672, -0.0328, 0.2250, 0.4594, 0.6000, 0.7172,
               0.8578, 0.9750, 1.0688, 1.1625, 1.2328, 1.3031, 1.2891, 1.1625, 1.0453, 0.8813, 0.5766,
               0.2953, 0.0141, -0.2203, -0.5016, -0.7359, -0.8297, -1.0172, -1.1813, -1.2984, -1.4156,
               -1.5797, -1.5797]

# w_a vs n_s
wa_ns_iv_x = [0.9538, 0.9607, 0.9676, 0.9722, 0.9753, 0.9776, 0.9771, 0.9753, 0.9722, 0.9684, 0.9645,
              0.9607, 0.9576, 0.9530, 0.9484, 0.9454, 0.9443, 0.9454, 0.9484, 0.9507]
wa_ns_iv_y = [0.6000, 0.6141, 0.5766, 0.4594, 0.2953, 0.0141, -0.2203, -0.3609, -0.5016, -0.5953,
              -0.6422, -0.6891, -0.6188, -0.5484, -0.4078, -0.2438, -0.0328, 0.1781, 0.3891, 0.5063]
wa_ns_iii_x = [0.9484, 0.9553, 0.9630, 0.9707, 0.9776, 0.9822, 0.9853, 0.9876, 0.9888, 0.9891, 0.9876,
               0.9845, 0.9814, 0.9768, 0.9707, 0.9630, 0.9569, 0.9507, 0.9446, 0.9400, 0.9361, 0.9341,
               0.9323, 0.9323, 0.9335, 0.9361, 0.9400, 0.9438]
wa_ns_iii_y = [1.0453, 1.0781, 1.1016, 1.1016, 1.0453, 0.8578, 0.6703, 0.4359, 0.1078, -0.2203, -0.5016,
               -0.7359, -0.9234, -1.0641, -1.1813, -1.2422, -1.2516, -1.1578, -1.0406, -0.8997, -0.7594,
               -0.5484, -0.2672, 0.0609, 0.3422, 0.5766, 0.7641, 0.9047]
wa_ns_opt_x = [0.9446, 0.9469, 0.9507, 0.9561, 0.9607, 0.9661, 0.9707, 0.9745, 0.9776, 0.9791, 0.9799,
               0.9796, 0.9788, 0.9784, 0.9768, 0.9745, 0.9714, 0.9676, 0.9630, 0.9592, 0.9553, 0.9500,
               0.9454, 0.9427, 0.9412, 0.9397, 0.9403, 0.9418, 0.9434]
wa_ns_opt_y = [0.5297, 0.7172, 0.8016, 0.8203, 0.9047, 0.8344, 0.8109, 0.7172, 0.5297, 0.2953, 0.0609,
               -0.2203, -0.4547, -0.6422, -0.8766, -1.0641, -1.1813, -1.2891, -1.3453, -1.2516, -1.1344,
               -0.9938, -0.8531, -0.6656, -0.4547, -0.2672, -0.0328, 0.1781, 0.3656]
wa_ns_con_x = [0.9438, 0.9454, 0.9484, 0.9523, 0.9569, 0.9615, 0.9630, 0.9661, 0.9707, 0.9753, 0.9791,
               0.9822, 0.9845, 0.9868, 0.9883, 0.9894, 0.9891, 0.9888, 0.9860, 0.9860, 0.9860, 0.9899,
               0.9906, 0.9553, 0.9538, 0.9477, 0.9430, 0.9407, 0.9384, 0.9361, 0.9346, 0.9338, 0.9346,
               0.9354, 0.9369, 0.9407]
wa_ns_con_y = [0.6938, 0.9047, 1.0922, 1.3031, 1.3734, 1.3031, 1.2328, 1.3172, 1.3969, 1.2797, 1.1391,
               0.9750, 0.7641, 0.5297, 0.2953, 0.0141, -0.2203, -0.4547, -0.6891, -0.9703, -1.2516,
               -1.3922, -1.5328, -1.5797, -1.3922, -1.2984, -1.2516, -1.0875, -0.8766, -0.7125, -0.5016,
               -0.2672, -0.0328, 0.2484, 0.4828, 0.5063]

# w_a vs w0
wa_w0_iv_x = [-1.1709, -1.1071, -1.0306, -0.9541, -0.8903, -0.8393, -0.8138, -0.8061, -0.8265, -0.8776,
              -0.9413, -1.0051, -1.0816, -1.1454, -1.1760, -1.1837]
wa_w0_iv_y = [0.5766, 0.5766, 0.4594, 0.2953, 0.1078, -0.0797, -0.2672, -0.4547, -0.5953, -0.6188,
              -0.5484, -0.4078, -0.2203, 0.0141, 0.2484, 0.4828]
wa_w0_iii_x = [-1.3367, -1.2730, -1.2092, -1.1454, -1.0689, -1.0051, -0.9413, -0.8776, -0.8138, -0.7628,
               -0.7245, -0.6939, -0.6607, -0.6429, -0.6607, -0.6862, -0.7500, -0.8138, -0.8776, -0.9413,
               -1.0179, -1.0816, -1.1582, -1.2219, -1.2806, -1.3240, -1.3469, -1.3571, -1.3546]
wa_w0_iii_y = [1.1625, 1.1859, 1.1016, 0.9609, 0.8203, 0.7172, 0.6000, 0.4125, 0.2016, 0.0141, -0.2203,
               -0.4547, -0.7125, -0.9703, -1.2047, -1.2984, -1.2609, -1.1578, -1.0172, -0.8531, -0.6656,
               -0.5016, -0.2906, -0.0797, 0.1313, 0.3422, 0.5766, 0.8578, 1.0453]
wa_w0_opt_x = [-1.3163, -1.2857, -1.2219, -1.1582, -1.0816, -1.0051, -0.9286, -0.8648, -0.8010, -0.7551,
               -0.7245, -0.6990, -0.6786, -0.6607, -0.6684, -0.6990, -0.7500, -0.8010, -0.8520, -0.9158,
               -0.9796, -1.0434, -1.1071, -1.1709, -1.2219, -1.2653, -1.2985, -1.3214]
wa_w0_opt_y = [0.7641, 0.8484, 0.8813, 0.8109, 0.7078, 0.6000, 0.4594, 0.2484, 0.0141, -0.1500, -0.3375,
               -0.5484, -0.7828, -1.0172, -1.2047, -1.2891, -1.2984, -1.2047, -1.0406, -0.8531, -0.6656,
               -0.5016, -0.3375, -0.1500, 0.0375, 0.2250, 0.4359, 0.6234]
wa_w0_con_x = [-1.4643, -1.4260, -1.3750, -1.2857, -1.1837, -1.0816, -0.9923, -0.9158, -0.8265, -0.7628,
               -0.7194, -0.6862, -0.6352, -0.5969, -0.5587, -0.5255, -0.5000, -0.4694, -0.8776, -0.9413,
               -1.0051, -1.0689, -1.1327, -1.1964, -1.2474, -1.2985, -1.3495, -1.4005, -1.4388, -1.4592]
wa_w0_con_y = [1.2328, 1.3266, 1.2797, 1.1391, 0.9984, 0.8109, 0.6000, 0.4594, 0.2719, 0.1078, -0.1266,
               -0.3141, -0.5250, -0.6891, -0.9234, -1.1578, -1.3922, -1.5797, -1.4859, -1.2984, -1.0875,
               -0.8531, -0.6656, -0.4078, -0.1734, 0.0609, 0.2953, 0.5297, 0.8109, 1.0453]

# ---------------------------------------------------------------------------
# Lookup tables assembled from the named arrays above
# ---------------------------------------------------------------------------
g = globals()
hists = {p: {s: (g[f"h_{p}_{s}_x"], g[f"h_{p}_{s}_y"]) for s in survey_names} for p in params}
contours = {}
for i in range(1, 5):
    for j in range(i):
        py, px = params[i], params[j]
        contours[(py, px)] = {s: (g[f"{py}_{px}_{s}_x"], g[f"{py}_{px}_{s}_y"]) for s in survey_names}

# ---------------------------------------------------------------------------
# Styling
# ---------------------------------------------------------------------------
colors = {"iv": "#000000", "iii": "#7f9a00", "opt": "#cc0000", "con": "#0000ff"}
contour_dash = {"iv": "solid", "iii": "10px,5px,2px,5px",
                "opt": "10px,4px,2px,4px,2px,4px,2px,4px", "con": "14px,8px"}
hist_dash = {"iv": "solid", "iii": "6px,3px", "opt": "6px,3px", "con": "4px,3px"}
draw_order = ["con", "opt", "iii", "iv"]

axis_range = {"om": [0.275, 0.365], "s8": [0.7895, 0.8555], "ns": [0.930, 0.990],
              "w0": [-1.5, -0.5], "wa": [-1.5, 1.5]}
hist_range = dict(axis_range, wa=[-2.0, 2.0])
# minor tick spacing along the x-axis of the 1-D panels
hist_minor = {"om": None, "s8": 0.004125, "ns": 0.00375, "w0": 0.0625, "wa": 0.1}
x_ticks = {"om": (om_ticks, om_ticktext), "s8": (s8_ticks[1:], s8_ticktext[1:]),
           "ns": (ns_ticks[1:], ns_ticktext[1:]), "w0": (w0_ticks[1:], w0_ticktext[1:]),
           "wa": (wa_hist_ticks, wa_hist_ticktext)}
y_ticks = {"s8": (s8_ticks, s8_ticktext), "ns": (ns_ticks, ns_ticktext),
           "w0": (w0_ticks, w0_ticktext), "wa": (wa_ticks, wa_ticktext)}

W, H = 1122, 1157
ML, MR, MT, MB = 96, 33, 5, 86
N = 5
tick_font = dict(family="Liberation Sans, Arial, sans-serif", size=15, color="black")
serif = "DejaVu Serif, serif"

fig = go.Figure()
layout_axes = {}
k = 0
for i in range(N):
    for j in range(i + 1):
        k += 1
        sfx = "" if k == 1 else str(k)
        xa, ya = "x" + sfx, "y" + sfx
        px = params[j]
        common = dict(showline=True, linecolor="black", linewidth=1.2, mirror="allticks",
                      ticks="inside", ticklen=6, tickwidth=1.3, tickcolor="black",
                      showgrid=False, zeroline=False, tickfont=tick_font, tickmode="array")
        xminor = None
        if i == j:
            xr = hist_range[px]
            yr = [0, 0.0583]
            ytv, ytt = prob_ticks, prob_ticktext
            if hist_minor[px]:
                xminor = dict(ticks="inside", ticklen=3, tickwidth=1, tickcolor="black",
                              tickmode="linear", tick0=xr[0], dtick=hist_minor[px], showgrid=False)
            for s in draw_order:
                hx, hy = hists[px][s]
                fig.add_trace(go.Scatter(
                    x=hx, y=hy, xaxis=xa, yaxis=ya, mode="lines", showlegend=False,
                    hoverinfo="skip",
                    line=dict(color=colors[s], width=2.0 if s == "iv" else 2.6, dash=hist_dash[s])))
        else:
            py = params[i]
            xr = axis_range[px]
            yr = axis_range[py]
            ytv, ytt = y_ticks[py]
            for s in draw_order:
                cx, cy = contours[(py, px)][s]
                fig.add_trace(go.Scatter(
                    x=list(cx) + [cx[0]], y=list(cy) + [cy[0]], xaxis=xa, yaxis=ya,
                    mode="lines", showlegend=False, hoverinfo="skip",
                    line=dict(color=colors[s], width=2.0, dash=contour_dash[s])))
            fig.add_trace(go.Scatter(
                x=[fiducial[px]], y=[fiducial[py]], xaxis=xa, yaxis=ya, mode="markers",
                showlegend=False, hoverinfo="skip",
                marker=dict(symbol="cross", size=9, color="#0000ff", line=dict(width=0))))
        xtv, xtt = x_ticks[px]
        xaxis_def = dict(common, domain=[j / N, (j + 1) / N], anchor=ya, range=xr,
                         tickvals=xtv, ticktext=xtt, showticklabels=(i == N - 1))
        if xminor:
            xaxis_def["minor"] = xminor
        layout_axes["xaxis" + sfx] = xaxis_def
        layout_axes["yaxis" + sfx] = dict(
            common, domain=[1 - (i + 1) / N, 1 - i / N], anchor=xa, range=yr,
            tickvals=ytv, ticktext=ytt, showticklabels=(j == 0))

fig.update_layout(**layout_axes)

# Axis titles
titles = {"om": "Ω<sub>m</sub>", "s8": "σ<sub>8</sub>", "ns": "n<sub>s</sub>",
          "w0": "w<sub>0</sub>", "wa": "w<sub>a</sub>"}
annotations = []
for j, p in enumerate(params):
    annotations.append(dict(text=titles[p], xref="paper", yref="paper",
                            x=(j + 0.5) / N, y=-0.064, xanchor="center", yanchor="middle",
                            showarrow=False, font=dict(family=serif, size=26, color="black")))
for i, p in enumerate(params[1:], start=1):
    annotations.append(dict(text=titles[p], xref="paper", yref="paper",
                            x=-0.079, y=1 - (i + 0.5) / N, xanchor="center", yanchor="middle",
                            textangle=-90, showarrow=False,
                            font=dict(family=serif, size=26, color="black")))

# Survey key
key_y = [0.835, 0.776, 0.716, 0.657]
for s, yk in zip(["iv", "iii", "opt", "con"], key_y):
    annotations.append(dict(text=survey_names[s], xref="paper", yref="paper",
                            x=0.6775, y=yk, xanchor="left", yanchor="middle", showarrow=False,
                            font=dict(family=serif, size=34, color=colors[s])))

fig.update_layout(width=W, height=H, margin=dict(l=ML, r=MR, t=MT, b=MB),
                  paper_bgcolor="white", plot_bgcolor="white", annotations=annotations,
                  showlegend=False)

fig.write_html("out.html")
